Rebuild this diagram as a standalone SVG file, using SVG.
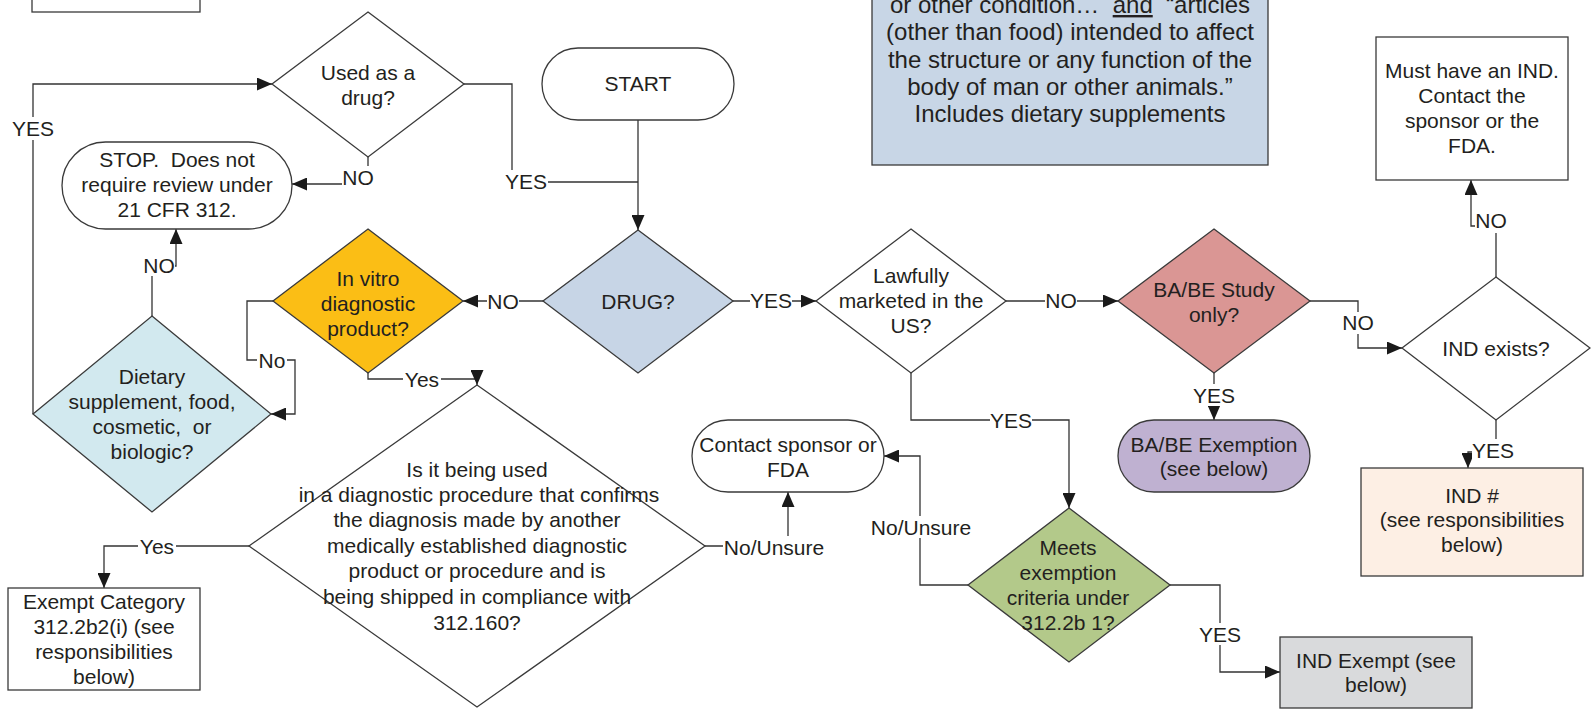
<svg xmlns="http://www.w3.org/2000/svg" width="1591" height="719" viewBox="0 0 1591 719">
<style>
.n{stroke:#3a3a3a;stroke-width:1.3}
.w{fill:#ffffff}
text{font-family:"Liberation Sans",Arial,sans-serif;font-size:21px;fill:#231f20;text-anchor:middle}
.info{font-size:24px}
.c{fill:none;stroke:#333333;stroke-width:1.3}
.a{marker-end:url(#arr)}
.lb{fill:#ffffff;stroke:none}
</style>
<defs>
<marker id="arr" markerUnits="userSpaceOnUse" markerWidth="15" markerHeight="13" refX="15" refY="6.5" orient="auto" viewBox="0 0 15 13">
<path d="M0,0 L15,6.5 L0,13 z" fill="#1a1a1a"/>
</marker>
</defs>
<rect width="1591" height="719" fill="#ffffff"/>

<g id="connectors">
<path class="c a" d="M638,120 V230"/>
<path class="c" d="M464,84 H512 V182 H638"/>
<path class="c a" d="M368,157 V184 H292"/>
<path class="c a" d="M33,414 V84 H272"/>
<path class="c a" d="M152,316 V266 H176 V229"/>
<path class="c a" d="M543,301 H463"/>
<path class="c a" d="M273,301 H247 V360 H295 V414 H271"/>
<path class="c a" d="M368,373 V379 H477 V385"/>
<path class="c a" d="M733,301 H816"/>
<path class="c a" d="M1006,301 H1118"/>
<path class="c a" d="M911,373 V420 H1069 V508"/>
<path class="c a" d="M1310,301 H1358 V348 H1402"/>
<path class="c a" d="M1214,373 V420"/>
<path class="c a" d="M1496,277 V226 H1471 V180"/>
<path class="c a" d="M1496,420 V452 H1468 V468"/>
<path class="c a" d="M249,546 H104 V588"/>
<path class="c a" d="M705,546 H788 V492"/>
<path class="c a" d="M968,585 H920 V456 H884"/>
<path class="c a" d="M1170,585 H1220 V672 H1280"/>

<g id="labels">
<rect class="lb" x="12" y="117" width="42" height="23"/><text x="33" y="136">YES</text>
<rect class="lb" x="342" y="166" width="33" height="22"/><text x="358" y="185">NO</text>
<rect class="lb" x="504" y="170" width="44" height="22"/><text x="526" y="189">YES</text>
<rect class="lb" x="143" y="255" width="32" height="21"/><text x="159" y="273">NO</text>
<rect class="lb" x="487" y="290" width="32" height="22"/><text x="503" y="309">NO</text>
<rect class="lb" x="257" y="350" width="30" height="21"/><text x="272" y="368">No</text>
<rect class="lb" x="403" y="369" width="38" height="21"/><text x="422" y="387">Yes</text>
<rect class="lb" x="750" y="290" width="42" height="22"/><text x="771" y="308">YES</text>
<rect class="lb" x="1045" y="290" width="32" height="22"/><text x="1061" y="308">NO</text>
<rect class="lb" x="990" y="409" width="42" height="22"/><text x="1011" y="428">YES</text>
<rect class="lb" x="1342" y="312" width="32" height="22"/><text x="1358" y="330">NO</text>
<rect class="lb" x="1193" y="384" width="42" height="22"/><text x="1214" y="403">YES</text>
<rect class="lb" x="1475" y="211" width="33" height="22"/><text x="1491" y="228">NO</text>
<rect class="lb" x="1472" y="439" width="42" height="23"/><text x="1493" y="458">YES</text>
<rect class="lb" x="138" y="536" width="38" height="22"/><text x="157" y="554">Yes</text>
<rect class="lb" x="723" y="536" width="102" height="22"/><text x="774" y="555">No/Unsure</text>
<rect class="lb" x="870" y="516" width="102" height="22"/><text x="921" y="535">No/Unsure</text>
<rect class="lb" x="1199" y="623" width="42" height="22"/><text x="1220" y="642">YES</text>
</g>
</g>

<g id="topleft"><rect class="n w" x="32" y="-20" width="168" height="32"/></g>

<g id="used">
<polygon class="n w" points="368,12 464,84 368,157 272,84"/>
<text x="368" y="80">Used as a</text><text x="368" y="105">drug?</text>
</g>

<g id="start">
<rect class="n w" x="542" y="48" width="192" height="72" rx="36"/>
<text x="638" y="91">START</text>
</g>

<g id="info">
<rect class="n" fill="#c8d6e6" x="872" y="-40" width="396" height="205"/>
<text class="info" x="1070" y="13">or other condition…&#160;&#160;<tspan text-decoration="underline">and</tspan>&#160;&#160;“articles</text>
<text class="info" x="1070" y="40">(other than food) intended to affect</text>
<text class="info" x="1070" y="68">the structure or any function of the</text>
<text class="info" x="1070" y="95">body of man or other animals.”</text>
<text class="info" x="1070" y="122">Includes dietary supplements</text>
</g>

<g id="must">
<rect class="n w" x="1376" y="37" width="192" height="143"/>
<text x="1472" y="78">Must have an IND.</text>
<text x="1472" y="103">Contact the</text>
<text x="1472" y="128">sponsor or the</text>
<text x="1472" y="153">FDA.</text>
</g>

<g id="stop">
<rect class="n w" x="62" y="142" width="230" height="87" rx="43.5"/>
<text x="177" y="167">STOP.&#160; Does not</text>
<text x="177" y="192">require review under</text>
<text x="177" y="217">21 CFR 312.</text>
</g>

<g id="drug">
<polygon class="n" fill="#c7d5e6" points="638,230 733,301 638,373 543,301"/>
<text x="638" y="309">DRUG?</text>
</g>

<g id="invitro">
<polygon class="n" fill="#fbbe15" points="368,229 463,301 368,373 273,301"/>
<text x="368" y="286">In vitro</text>
<text x="368" y="311">diagnostic</text>
<text x="368" y="336">product?</text>
</g>

<g id="lawfully">
<polygon class="n w" points="911,229 1006,301 911,373 816,301"/>
<text x="911" y="283">Lawfully</text>
<text x="911" y="308">marketed in the</text>
<text x="911" y="333">US?</text>
</g>

<g id="babe">
<polygon class="n" fill="#da9694" points="1214,229 1310,301 1214,373 1118,301"/>
<text x="1214" y="297">BA/BE Study</text>
<text x="1214" y="322">only?</text>
</g>

<g id="indexists">
<polygon class="n w" points="1496,277 1590,348 1496,420 1402,348"/>
<text x="1496" y="356">IND exists?</text>
</g>

<g id="dietary">
<polygon class="n" fill="#d2e9ef" points="152,316 271,414 152,512 33,414"/>
<text x="152" y="384">Dietary</text>
<text x="152" y="409">supplement, food,</text>
<text x="152" y="434">cosmetic,&#160; or</text>
<text x="152" y="459">biologic?</text>
</g>

<g id="contact">
<rect class="n w" x="692" y="420" width="192" height="72" rx="36"/>
<text x="788" y="452">Contact sponsor or</text>
<text x="788" y="477">FDA</text>
</g>

<g id="babeexemption">
<rect class="n" fill="#bfb1d1" x="1118" y="420" width="192" height="72" rx="36"/>
<text x="1214" y="452">BA/BE Exemption</text>
<text x="1214" y="476">(see below)</text>
</g>

<g id="indnumber">
<rect class="n" fill="#fdefe4" x="1361" y="468" width="222" height="108"/>
<text x="1472" y="503">IND #</text>
<text x="1472" y="527">(see responsibilities</text>
<text x="1472" y="552">below)</text>
</g>

<g id="diagnostic">
<polygon class="n w" points="477,385 705,546 477,707 249,546"/>
<text x="477" y="477">Is it being used</text>
<text x="479" y="502">in a diagnostic procedure that confirms</text>
<text x="477" y="527">the diagnosis made by another</text>
<text x="477" y="553">medically established diagnostic</text>
<text x="477" y="578">product or procedure and is</text>
<text x="477" y="604">being shipped in compliance with</text>
<text x="477" y="630">312.160?</text>
</g>

<g id="meets">
<polygon class="n" fill="#b3c98a" points="1069,508 1170,585 1069,662 968,585"/>
<text x="1068" y="555">Meets</text>
<text x="1068" y="580">exemption</text>
<text x="1068" y="605">criteria under</text>
<text x="1068" y="630">312.2b 1?</text>
</g>

<g id="exempt">
<rect class="n w" x="8" y="588" width="192" height="102"/>
<text x="104" y="609">Exempt Category</text>
<text x="104" y="634">312.2b2(i) (see</text>
<text x="104" y="659">responsibilities</text>
<text x="104" y="684">below)</text>
</g>

<g id="indexempt">
<rect class="n" fill="#d9dadc" x="1280" y="637" width="192" height="71"/>
<text x="1376" y="668">IND Exempt (see</text>
<text x="1376" y="692">below)</text>
</g>
</svg>
